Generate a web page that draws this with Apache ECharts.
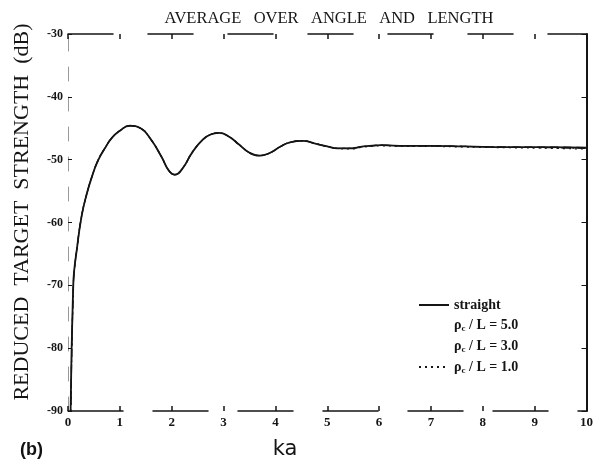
<!DOCTYPE html>
<html>
<head>
<meta charset="utf-8">
<script src="https://cdn.jsdelivr.net/npm/echarts@6/dist/echarts.min.js"></script>
<style>
html, body { margin: 0; padding: 0; background: #fff; }
#main { width: 596px; height: 465px; }
</style>
</head>
<body>
<div id="main"></div>
<script>
// ka 刻度
var kaTicks = ['0', '1', '2', '3', '4', '5', '6', '7', '8', '9', '10'];
var dbTicks = ['-90', '-80', '-70', '-60', '-50', '-40', '-30'];

// 各曲线 [ka, dB]
var straight = [
	[0.05, -90], [0.06, -85], [0.07, -80], [0.085, -75], [0.1, -70.5], [0.115, -68],
	[0.17, -64.3], [0.26, -59.1], [0.36, -55.5], [0.47, -52.5], [0.58, -50.1], [0.71, -48.2],
	[0.85, -46.5], [1.0, -45.4], [1.19, -44.6], [1.4, -45.0], [1.6, -46.8], [1.8, -49.5],
	[1.95, -51.8], [2.06, -52.4], [2.2, -51.5], [2.4, -48.8], [2.6, -46.8], [2.75, -46.0],
	[2.91, -45.75], [3.1, -46.3], [3.3, -47.6], [3.5, -48.9], [3.69, -49.35], [3.9, -48.9],
	[4.1, -47.9], [4.3, -47.2], [4.53, -47.0], [4.75, -47.4], [5.0, -47.9], [5.2, -48.2],
	[5.42, -48.2], [5.7, -47.9], [6.06, -47.7], [6.5, -47.8], [7.0, -47.8], [7.67, -47.9],
	[8.5, -48.0], [9.3, -48.0], [10, -48.1]
];
var rc50 = [
	[0.06, -88], [0.07, -81], [0.085, -75.5], [0.1, -71], [0.115, -68.2],
	[0.17, -64.3], [0.26, -59.1], [0.36, -55.5], [0.47, -52.5], [0.58, -50.1], [0.71, -48.2],
	[0.85, -46.5], [1.0, -45.4], [1.19, -44.6], [1.4, -45.0], [1.6, -46.8], [1.8, -49.5],
	[1.95, -51.8], [2.06, -52.4], [2.2, -51.5], [2.4, -48.8], [2.6, -46.8], [2.75, -46.0],
	[2.91, -45.75], [3.1, -46.3], [3.3, -47.6], [3.5, -48.9], [3.69, -49.35], [3.9, -48.9],
	[4.1, -47.9], [4.3, -47.2], [4.53, -47.0], [4.75, -47.4], [5.0, -47.9], [5.2, -48.2],
	[5.42, -48.2], [5.7, -47.9], [6.06, -47.7], [6.5, -47.8], [7.0, -47.8], [7.67, -47.9],
	[8.5, -48.0], [9.3, -48.0], [10, -48.1]
];
var rc30 = [
	[0.06, -89], [0.07, -82], [0.085, -76], [0.1, -71.3], [0.115, -68.3],
	[0.17, -64.3], [0.26, -59.1], [0.36, -55.5], [0.47, -52.5], [0.58, -50.1], [0.71, -48.2],
	[0.85, -46.5], [1.0, -45.4], [1.19, -44.6], [1.4, -45.0], [1.6, -46.8], [1.8, -49.5],
	[1.95, -51.8], [2.06, -52.4], [2.2, -51.5], [2.4, -48.8], [2.6, -46.8], [2.75, -46.0],
	[2.91, -45.75], [3.1, -46.3], [3.3, -47.6], [3.5, -48.9], [3.69, -49.35], [3.9, -48.9],
	[4.1, -47.9], [4.3, -47.2], [4.53, -47.0], [4.75, -47.4], [5.0, -47.9], [5.2, -48.2],
	[5.42, -48.2], [5.7, -47.9], [6.06, -47.7], [6.5, -47.8], [7.0, -47.8], [7.67, -47.9],
	[8.5, -48.0], [9.3, -48.1], [10, -48.2]
];
var rc10 = [
	[0.055, -90], [0.065, -84], [0.075, -79], [0.09, -74], [0.1, -71.5], [0.115, -68.4],
	[0.17, -64.3], [0.26, -59.1], [0.36, -55.5], [0.47, -52.5], [0.58, -50.1], [0.71, -48.2],
	[0.85, -46.5], [1.0, -45.4], [1.19, -44.6], [1.4, -45.0], [1.6, -46.8], [1.8, -49.5],
	[1.95, -51.8], [2.06, -52.4], [2.2, -51.5], [2.4, -48.8], [2.6, -46.8], [2.75, -46.0],
	[2.91, -45.75], [3.1, -46.3], [3.3, -47.6], [3.5, -48.9], [3.69, -49.35], [3.9, -48.9],
	[4.1, -47.9], [4.3, -47.2], [4.53, -47.0], [4.75, -47.4], [5.0, -47.9], [5.2, -48.2],
	[5.42, -48.3], [5.7, -48.0], [6.06, -47.8], [6.5, -47.9], [7.0, -47.9], [7.67, -48.0],
	[8.5, -48.1], [9.3, -48.2], [10, -48.3]
];

var legendText = {
	straight: 'straight',
	rc50: '{r|ρ}{s|c}{r| / L = 5.0}',
	rc30: '{r|ρ}{s|c}{r| / L = 3.0}',
	rc10: '{r|ρ}{s|c}{r| / L = 1.0}'
};

var serif = 'Liberation Serif';
var ink = '#151515';

var chart = echarts.init(document.getElementById('main'));

function curve(name, data, type, width) {
	return {
		name: name,
		type: 'line',
		data: data,
		symbol: 'none',
		smooth: true,
		lineStyle: { color: ink, width: width, type: type },
		itemStyle: { color: ink },
		z: 3
	};
}

var option = {
	backgroundColor: '#fff',
	animation: false,
	title: {
		text: 'AVERAGE   OVER   ANGLE   AND   LENGTH',
		left: 324,
		textAlign: 'center',
		top: 5,
		textStyle: { fontFamily: serif, fontSize: 16.5, fontWeight: 'normal', color: ink }
	},
	grid: { left: 68, right: 8, top: 34, bottom: 54 },
	legend: {
		orient: 'vertical',
		left: 413,
		top: 293,
		itemWidth: 30,
		itemHeight: 12,
		itemGap: 6,
		itemStyle: { opacity: 0 },
		data: [
			{ name: 'straight' },
			{ name: 'rc50', lineStyle: { opacity: 0 } },
			{ name: 'rc30', lineStyle: { opacity: 0 } },
			{ name: 'rc10' }
		],
		formatter: function (name) { return legendText[name]; },
		textStyle: {
			fontFamily: serif, fontSize: 14, fontWeight: 'bold', color: ink,
			rich: {
				r: { fontFamily: serif, fontSize: 14, fontWeight: 'bold', color: ink },
				s: { fontFamily: serif, fontSize: 9, fontWeight: 'bold', color: ink, padding: [7, 0, 0, 0] }
			}
		}
	},
	xAxis: [{
		type: 'value',
		min: 0,
		max: 10,
		interval: 1,
		position: 'bottom',
		axisLine: { onZero: false, lineStyle: { color: ink, width: 1.5, type: [55, 30] } },
		axisTick: { inside: true, length: 5, lineStyle: { color: ink, width: 1.5 } },
		axisLabel: {
			fontFamily: serif, fontSize: 13, fontWeight: 'bold', color: ink, margin: 5,
			formatter: function (v) { return kaTicks[Math.round(v)]; }
		},
		splitLine: { show: false }
	}, {
		type: 'value',
		min: 0,
		max: 10,
		interval: 1,
		position: 'top',
		axisLine: { onZero: false, lineStyle: { color: ink, width: 1.5, type: [45, 35] } },
		axisTick: { inside: true, length: 5, lineStyle: { color: ink, width: 1.5 } },
		axisLabel: { show: false },
		splitLine: { show: false }
	}],
	yAxis: [{
		type: 'value',
		min: -90,
		max: -30,
		interval: 10,
		axisLine: { onZero: false, lineStyle: { color: '#999', width: 1, type: [14, 16] } },
		axisTick: { inside: true, length: 4, lineStyle: { color: ink } },
		axisLabel: {
			fontFamily: serif, fontSize: 12, fontWeight: 'bold', color: ink, margin: 5,
			formatter: function (v) { return dbTicks[Math.round((v + 90) / 10)]; }
		},
		splitLine: { show: false }
	}, {
		type: 'value',
		min: -90,
		max: -30,
		interval: 10,
		position: 'right',
		axisLine: { onZero: false, lineStyle: { color: ink, width: 2 } },
		axisTick: { inside: true, length: 5, lineStyle: { color: ink } },
		axisLabel: { show: false },
		splitLine: { show: false }
	}],
	graphic: [{
		type: 'text',
		x: 22,
		y: 212,
		rotation: Math.PI / 2,
		style: {
			text: 'REDUCED  TARGET  STRENGTH  (dB)',
			fontFamily: serif, fontSize: 22, fill: ink,
			align: 'center', verticalAlign: 'middle'
		}
	}, {
		type: 'text',
		x: 285,
		y: 450,
		style: {
			text: 'ka', fontFamily: 'DejaVu Sans', fontSize: 21, fill: ink,
			align: 'center', verticalAlign: 'middle'
		}
	}, {
		type: 'text',
		left: 20,
		top: 441,
		style: { text: '(b)', fontFamily: 'Liberation Sans', fontWeight: 'bold', fontSize: 18, fill: '#111' }
	}],
	series: [
		curve('straight', straight, 'solid', 1.8),
		curve('rc50', rc50, [8, 5], 1.2),
		curve('rc30', rc30, [8, 3, 2, 3], 1.2),
		curve('rc10', rc10, [2, 4], 1.2)
	]
};
chart.setOption(option);
</script>
</body>
</html>
